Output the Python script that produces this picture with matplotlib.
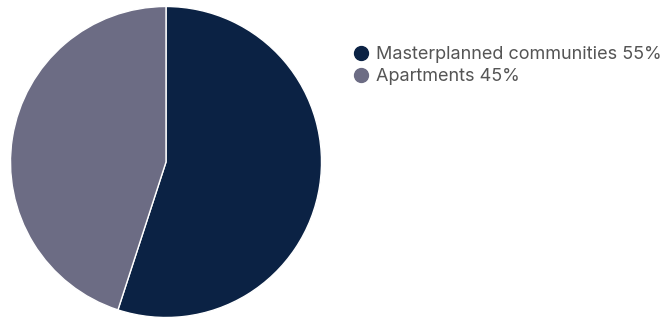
import matplotlib.pyplot as plt
from matplotlib.lines import Line2D

segments = ['Masterplanned communities', 'Apartments']
shares = [55, 45]
colors = ['#0b2244', '#6c6c84']

plt.rcParams['font.family'] = ['Inter', 'DejaVu Sans']

fig = plt.figure(figsize=(6.69, 3.21), dpi=100)
ax = fig.add_axes([10.5 / 669, 3.5 / 321, 311 / 669, 311 / 321])

# clockwise from 12 o'clock, thin white divider between slices
ax.pie(shares, colors=colors, startangle=90, counterclock=False,
       wedgeprops={'edgecolor': 'white', 'linewidth': 1})
ax.set_xlim(-1, 1)
ax.set_ylim(-1, 1)
ax.set_aspect('equal')

handles = [Line2D([], [], marker='o', linestyle='none', markersize=10,
                  markerfacecolor=c, markeredgecolor=c) for c in colors]
labels = ['%s %d%%' % (s, v) for s, v in zip(segments, shares)]
fig.legend(handles, labels, loc='upper left', bbox_to_anchor=(352 / 669, 1 - 46 / 321),
           frameon=False, fontsize=13, labelcolor='#555555',
           handletextpad=0.35, handlelength=1.0, labelspacing=0.29,
           borderpad=0, borderaxespad=0)

fig.savefig('out.png', dpi=100)
